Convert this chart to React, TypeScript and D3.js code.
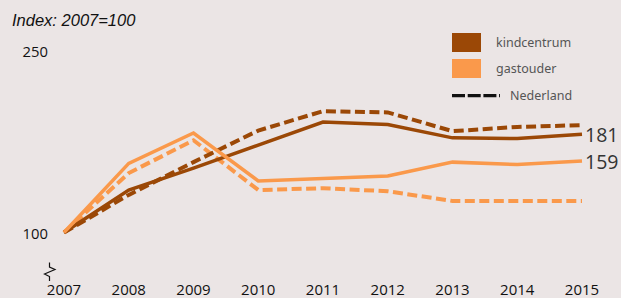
import React from "react";
import * as d3 from "d3";

const years = ["2007", "2008", "2009", "2010", "2011", "2012", "2013", "2014", "2015"];
const kindcentrum = [100, 135, 153, 172, 191, 189, 178, 177.5, 181];
const gastouder = [100, 157, 182, 142.5, 144.5, 146.5, 158, 156, 159];
const nederlandKind = [100, 131, 158, 184, 200, 199, 183.5, 187, 188.5];
const nederlandGast = [100, 149, 176, 135, 136.5, 134, 126, 126, 126];
const yTicks = [100, 250];
const endLabels = [
  { value: 181, series: "kindcentrum" },
  { value: 159, series: "gastouder" },
];

const DARK = "#9b4806";
const LIGHT = "#fa994b";
const BG = "#ebe5e5";

export default function App() {
  const W = 621;
  const H = 298;
  const x = d3.scalePoint<string>().domain(years).range([64, 582]);
  const y = d3.scaleLinear().domain([100, 250]).range([232.5, 50.5]);
  const line = d3
    .line<number>()
    .x((_, i) => x(years[i]) as number)
    .y((d) => y(d));

  const tickFont = "'Open Sans', sans-serif";

  return (
    <svg
      width={W}
      height={H}
      style={{ position: "absolute", left: 0, top: 0, background: BG }}
    >
      <rect x={0} y={0} width={W} height={H} fill={BG} />
      <text
        x={12}
        y={26}
        fontFamily="'Liberation Sans', Arial, sans-serif"
        fontStyle="italic"
        fontSize={16.5}
        fill="#111"
      >
        Index: 2007=100
      </text>

      {yTicks.map((t) => (
        <text
          key={t}
          x={48}
          y={y(t) + 6}
          textAnchor="end"
          fontFamily={tickFont}
          fontSize={14.8}
          fill="#111"
        >
          {t}
        </text>
      ))}

      {years.map((yr) => (
        <text
          key={yr}
          x={x(yr) as number}
          y={294.5}
          textAnchor="middle"
          fontFamily={tickFont}
          fontSize={15}
          fill="#111"
        >
          {yr}
        </text>
      ))}

      {/* axis break symbol */}
      <path
        d="M49.5,262.5 L49.5,267 L55,269.5 L44.5,274 L49.5,276.5 L49.5,281"
        fill="none"
        stroke="#111"
        strokeWidth={1.2}
      />

      <path
        d={line(nederlandGast) || ""}
        fill="none"
        stroke={LIGHT}
        strokeWidth={4}
        strokeDasharray="10,4.5"
      />
      <path
        d={line(nederlandKind) || ""}
        fill="none"
        stroke={DARK}
        strokeWidth={4}
        strokeDasharray="10,4.5"
      />
      <path d={line(kindcentrum) || ""} fill="none" stroke={DARK} strokeWidth={3.5} />
      <path d={line(gastouder) || ""} fill="none" stroke={LIGHT} strokeWidth={3.5} />

      {endLabels.map((l) => (
        <text
          key={l.series}
          x={585}
          y={y(l.value) + 8}
          fontFamily={tickFont}
          fontSize={19.5}
          fill="#333"
        >
          {l.value}
        </text>
      ))}

      {/* legend */}
      <rect x={452} y={33} width={29} height={19} fill={DARK} />
      <rect x={452} y={59} width={29} height={19} fill={LIGHT} />
      <line
        x1={452}
        x2={500}
        y1={95.7}
        y2={95.7}
        stroke="#111"
        strokeWidth={3.3}
        strokeDasharray="13,2.7"
      />
      <text x={496} y={46.7} fontFamily="'Noto Sans', sans-serif" fontSize={12.5} fill="#555">
        kindcentrum
      </text>
      <text x={496} y={72.5} fontFamily="'Noto Sans', sans-serif" fontSize={12.5} fill="#555">
        gastouder
      </text>
      <text x={510} y={100} fontFamily="'Noto Sans', sans-serif" fontSize={12.5} fill="#555">
        Nederland
      </text>
    </svg>
  );
}
